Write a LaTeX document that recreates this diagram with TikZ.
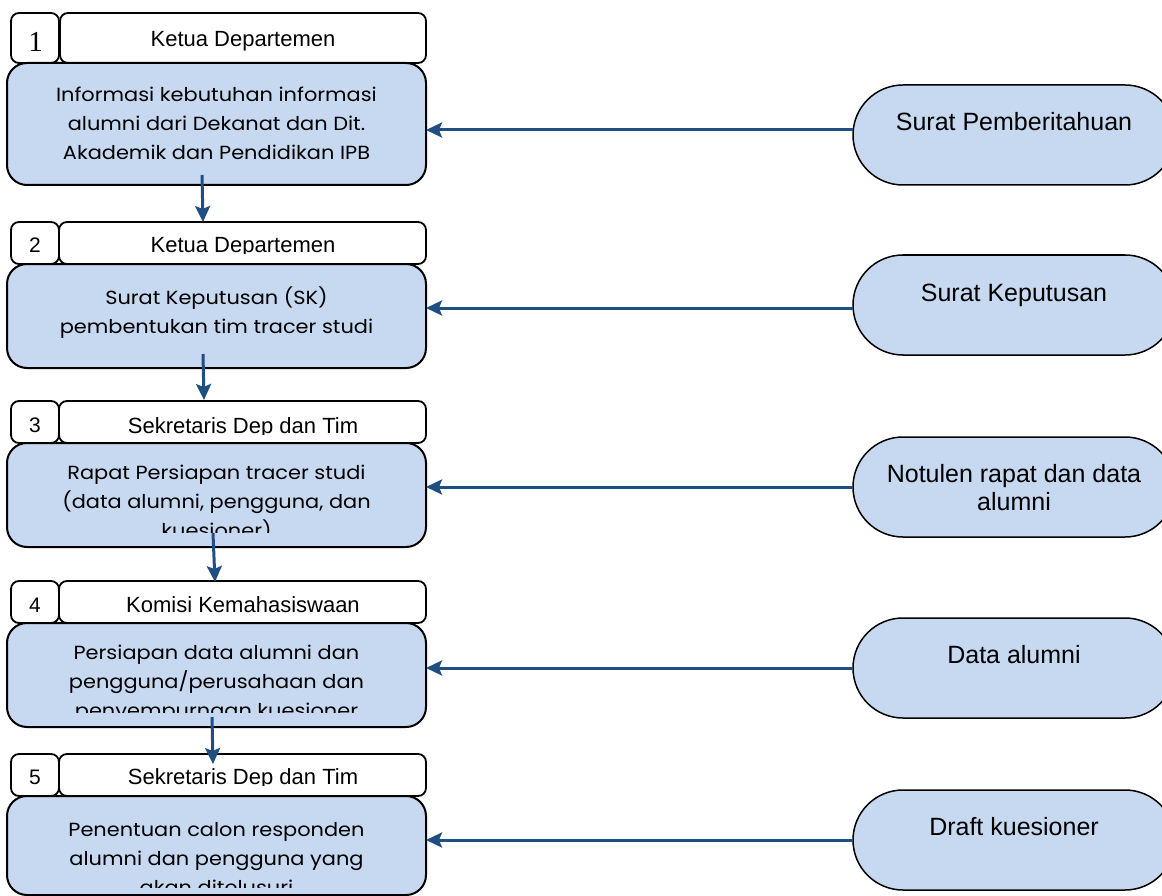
\documentclass[tikz,border=0pt]{standalone}
\usepackage{fontspec}
\setmainfont{Liberation Sans}
\newfontfamily\gothic[FakeStretch=1.1]{Poppins}
\newfontfamily\serifnum{Liberation Serif}
\usetikzlibrary{arrows.meta,shapes.misc}

\definecolor{boxfill}{RGB}{198,217,240}
\definecolor{flowblue}{RGB}{31,78,130}

\tikzset{
  numbox/.style={draw=black, line width=1.8pt, rounded corners=8pt, fill=white, outer sep=0pt, inner sep=0pt, anchor=north west},
  headbox/.style={draw=black, line width=1.8pt, rounded corners=8pt, fill=white, outer sep=0pt, inner sep=0pt, anchor=north west},
  mainbox/.style={draw=black, line width=2pt, rounded corners=20pt, fill=boxfill, outer sep=0pt, inner sep=0pt, anchor=north west, minimum width=419pt},
  term/.style={rounded rectangle, draw=black, line width=1.5pt, fill=boxfill, minimum width=322pt, minimum height=100pt, inner sep=0pt, outer sep=0pt},
  flow/.style={draw=flowblue, line width=3pt, -{Stealth[length=16pt,width=15pt,inset=3pt]}},
  numtext/.style={font=\fontsize{21}{24}\selectfont, inner sep=0pt, anchor=base},
  firstnum/.style={font=\serifnum\fontsize{29}{32}\selectfont, inner sep=0pt, anchor=base},
  headtext/.style={font=\fontsize{22}{26}\selectfont, inner sep=0pt, anchor=base},
  maintext/.style={font=\gothic\fontsize{19}{29}\selectfont, align=center, inner sep=0pt, anchor=north},
  termtext/.style={font=\fontsize{25}{28}\selectfont, align=center, inner sep=0pt, anchor=north},
}

\begin{document}
\begin{tikzpicture}[x=1pt,y=-1pt]
\useasboundingbox (0,0) rectangle (1162,896);
\clip (0,0) rectangle (1162,896);

% ---------- step 1 ----------
\node[numbox, minimum width=48pt, minimum height=50pt] (n1) at (11,13) {};
\node[headbox, minimum width=366pt, minimum height=50pt] (h1) at (60,13) {};
\node[mainbox, minimum height=122pt] (m1) at (7,63) {};
\node[firstnum] (n1t) at (35.5,52) {1};
\node[headtext] (h1t) at (243,47) {Ketua Departemen};
\node[maintext] (m1t) at (216.5,87) {Informasi kebutuhan informasi\\alumni dari Dekanat dan Dit.\\Akademik dan Pendidikan IPB};

% ---------- step 2 ----------
\node[numbox, minimum width=48pt, minimum height=42pt] (n2) at (11,222) {};
\node[headbox, minimum width=367pt, minimum height=42pt] (h2) at (59,222) {};
\node[mainbox, minimum height=104pt] (m2) at (7,264) {};
\node[numtext] (n2t) at (35,253) {2};
\begin{scope}
  \clip (60,222) rectangle (426,254);
  \node[headtext] (h2t) at (243,253) {Ketua Departemen};
\end{scope}
\node[maintext] (m2t) at (216.5,287) {Surat Keputusan (SK)\\pembentukan tim tracer studi};

% ---------- step 3 ----------
\node[numbox, minimum width=48pt, minimum height=42pt] (n3) at (11,401) {};
\node[headbox, minimum width=367pt, minimum height=42pt] (h3) at (59,401) {};
\node[mainbox, minimum height=104pt] (m3) at (7,443) {};
\node[numtext] (n3t) at (35,432) {3};
\begin{scope}
  \clip (60,401) rectangle (426,434);
  \node[headtext] (h3t) at (243,433) {Sekretaris Dep dan Tim};
\end{scope}
\begin{scope}
  \clip (10,443) rectangle (424,532);
  \node[maintext] (m3t) at (216.5,465) {Rapat Persiapan tracer studi\\(data alumni, pengguna, dan\\kuesioner)};
\end{scope}

% ---------- step 4 ----------
\node[numbox, minimum width=48pt, minimum height=42pt] (n4) at (11,581) {};
\node[headbox, minimum width=367pt, minimum height=42pt] (h4) at (59,581) {};
\node[mainbox, minimum height=104pt] (m4) at (7,623) {};
\node[numtext] (n4t) at (35,612) {4};
\begin{scope}
  \clip (60,581) rectangle (426,613);
  \node[headtext] (h4t) at (243,612) {Komisi Kemahasiswaan};
\end{scope}
\begin{scope}
  \clip (10,623) rectangle (424,712);
  \node[maintext] (m4t) at (216.5,645) {Persiapan data alumni dan\\pengguna/perusahaan dan\\penyempurnaan kuesioner};
\end{scope}

% ---------- step 5 ----------
\node[numbox, minimum width=48pt, minimum height=42pt] (n5) at (11,754) {};
\node[headbox, minimum width=367pt, minimum height=42pt] (h5) at (59,754) {};
\node[mainbox, minimum height=99pt] (m5) at (7,796) {};
\node[numtext] (n5t) at (35,784) {5};
\begin{scope}
  \clip (60,754) rectangle (426,785);
  \node[headtext] (h5t) at (243,784) {Sekretaris Dep dan Tim};
\end{scope}
\begin{scope}
  \clip (10,796) rectangle (424,887);
  \node[maintext] (m5t) at (216.5,822) {Penentuan calon responden\\alumni dan pengguna yang\\akan ditelusuri};
\end{scope}

% ---------- documents on the right ----------
\node[term] (t1) at (1014,135) {};
\node[termtext] (t1t) at (1014,112) {Surat Pemberitahuan};
\node[term] (t2) at (1014,305) {};
\node[termtext] (t2t) at (1014,284) {Surat Keputusan};
\node[term] (t3) at (1014,487) {};
\node[termtext] (t3t) at (1014,464) {Notulen rapat dan data\\alumni};
\node[term] (t4) at (1014,668) {};
\node[termtext] (t4t) at (1014,645) {Data alumni};
\node[term] (t5) at (1014,840) {};
\node[termtext] (t5t) at (1014,817) {Draft kuesioner};

% ---------- flow between the steps ----------
\coordinate (a1s) at (202,175);
\coordinate (a1e) at (203,222);
\coordinate (a2s) at (203,354);
\coordinate (a2e) at (204,400);
\coordinate (a3s) at (213,533);
\coordinate (a3e) at (215,582);
\coordinate (a4s) at (212,717);
\coordinate (a4e) at (213,764);
\draw[flow] (a1s) -- (a1e);
\draw[flow] (a2s) -- (a2e);
\draw[flow] (a3s) -- (a3e);
\draw[flow] (a4s) -- (a4e);

% ---------- documents feeding each step ----------
\draw[flow] ([yshift=5pt]t1.west) -- ([yshift=5pt]t1.west -| m1.east);
\draw[flow] ([yshift=-3pt]t2.west) -- ([yshift=-3pt]t2.west -| m2.east);
\draw[flow] (t3.west) -- (t3.west -| m3.east);
\draw[flow] (t4.west) -- (t4.west -| m4.east);
\draw[flow] (t5.west) -- (t5.west -| m5.east);
\end{tikzpicture}
\end{document}
